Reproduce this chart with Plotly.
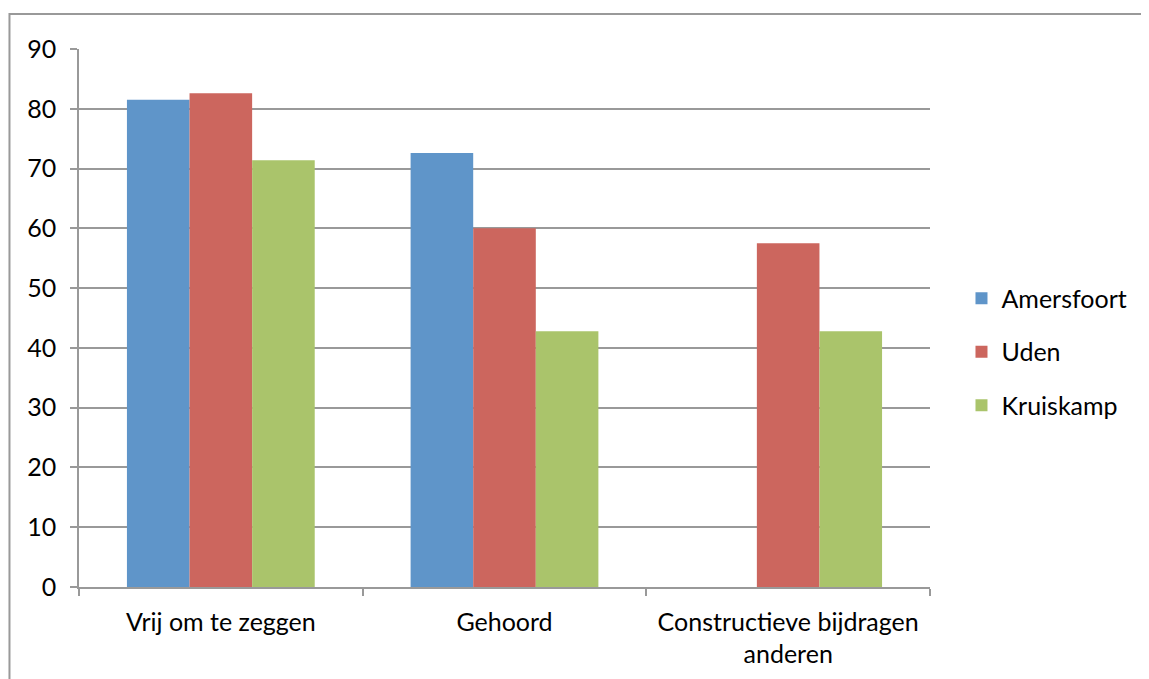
import plotly.graph_objects as go

categories = ["Vrij om te zeggen", "Gehoord", "Constructieve bijdragen<br>anderen"]
series_names = ["Amersfoort", "Uden", "Kruiskamp"]
amersfoort = [81.5, 72.6, None]
uden = [82.6, 60.0, 57.5]
kruiskamp = [71.4, 42.8, 42.8]
colors = ["#5F95C9", "#CC665E", "#AAC46B"]
y_ticks = [0, 10, 20, 30, 40, 50, 60, 70, 80, 90]

FONT = "Lato"
fig = go.Figure()
for i, (name, vals) in enumerate(zip(series_names, [amersfoort, uden, kruiskamp])):
    fig.add_trace(go.Bar(
        x=categories, y=vals, name=name, legendgroup=name,
        marker=dict(color=colors[i], line=dict(width=0)),
    ))

fig.update_layout(
    width=1149, height=679,
    margin=dict(l=71, r=227, t=41, b=100),
    paper_bgcolor="white", plot_bgcolor="white",
    barmode="group", bargap=0.338, bargroupgap=0,
    font=dict(family=FONT, size=25, color="black"),
    legend=dict(x=1.037, y=0.437, xanchor="left", yanchor="middle",
                font=dict(family=FONT, size=25, color="black"),
                tracegroupgap=18, bgcolor="rgba(0,0,0,0)"),
    showlegend=True,
)
fig.update_yaxes(
    range=[0, 90], tickvals=y_ticks, showgrid=True, gridcolor="#999999", gridwidth=1.5,
    showline=True, linecolor="#999999", linewidth=1.5,
    ticks="outside", ticklen=7, tickcolor="#999999", tickwidth=1.5,
    ticklabelstandoff=9, zeroline=False,
)
fig.update_xaxes(
    showline=True, linecolor="#999999", linewidth=1.5,
    ticks="outside", ticklen=7, tickcolor="#999999", tickwidth=1.5,
    tickson="boundaries", ticklabelstandoff=12,
)
# outer chart border
fig.add_shape(type="rect", xref="paper", yref="paper",
              x0=-0.0817, x1=1.3, y0=-0.3, y1=1.065,
              line=dict(color="#999999", width=2), fillcolor="rgba(0,0,0,0)", layer="below")

fig.write_html("out.html")
